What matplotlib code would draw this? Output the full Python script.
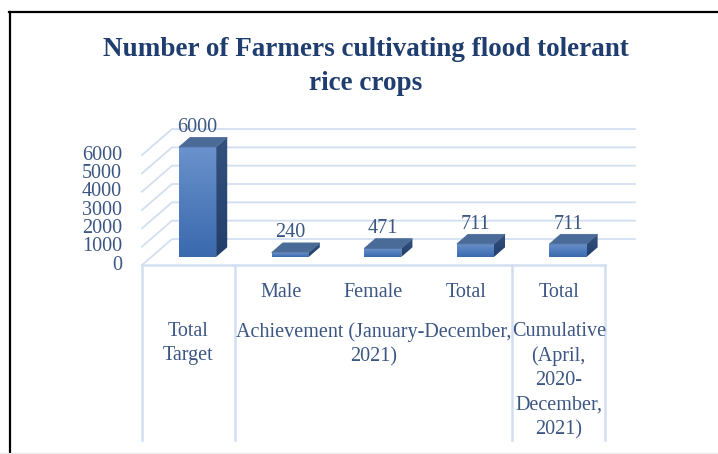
import numpy as np
import matplotlib
matplotlib.use("Agg")
import matplotlib.pyplot as plt
from matplotlib.patches import Polygon
from matplotlib.lines import Line2D

# data
categories = ["Total Target", "Male", "Female", "Total", "Total"]
values = [6000, 240, 471, 711, 711]
inner_labels = ["", "Male", "Female", "Total", "Total"]
group_labels = ["Total\nTarget", "Achievement (January-December,\n2021)",
                "Cumulative\n(April,\n2020-\nDecember,\n2021)"]
group_spans = [(0, 0), (1, 3), (4, 4)]
yticks = [0, 1000, 2000, 3000, 4000, 5000, 6000]
title = "Number of Farmers cultivating flood tolerant\nrice crops"

W, H = 718, 454
FONT = "Liberation Serif"
TXT = "#3b5683"
GRID = "#d3dff1"
FS = 14.5

# pixel layout of the 3d box
PX_CAT = 92.6     # px per category
X0PX = 142        # front-left edge of floor
PX_VAL = 0.01833  # px per unit value
Y0PX = 265        # front floor line (from top)
DX = 30 / PX_CAT  # depth offset in data units
DY = 26 / PX_VAL
F0, F1 = 0.31, 0.68   # bar depth range
BAR_W = 0.40


def proj(x, v, f):
    return (x + f * DX, v + f * DY)


def ypx(py):
    return (Y0PX - py) / PX_VAL


fig = plt.figure(figsize=(W / 100, H / 100), dpi=100)
ax = fig.add_axes([0, 0, 1, 1])
ax.axis("off")

# walls / grid
for v in yticks:
    pts = [proj(-0.5, v, 0), proj(-0.5, v, 1), proj(len(values) - 0.5, v, 1)]
    ax.plot([p[0] for p in pts], [p[1] for p in pts], color=GRID, lw=1.3, zorder=1)
    ax.text(-0.5 - 20 / PX_CAT, v, f"{v}", ha="right", va="center",
            fontsize=FS, family=FONT, color=TXT)

# floor front edge and category table lines
ax.plot([-0.5, len(values) - 0.5], [0, 0], color=GRID, lw=1.8, zorder=1)
for b in [-0.5, 0.5, 3.5, 4.5]:
    ax.plot([b, b], [0, ypx(440)], color=GRID, lw=1.8, zorder=1)

# bars
grad = np.linspace(0, 1, 64).reshape(-1, 1)
cm_front = matplotlib.colors.LinearSegmentedColormap.from_list("f", ["#3a69ae", "#6a92cc"])
cm_side = matplotlib.colors.LinearSegmentedColormap.from_list("s", ["#223f6c", "#34517f"])
for i, v in enumerate(values):
    xl, xr = i - BAR_W / 2, i + BAR_W / 2
    front = [proj(xl, 0, F0), proj(xr, 0, F0), proj(xr, v, F0), proj(xl, v, F0)]
    side = [proj(xr, 0, F0), proj(xr, 0, F1), proj(xr, v, F1), proj(xr, v, F0)]
    top = [proj(xl, v, F0), proj(xr, v, F0), proj(xr, v, F1), proj(xl, v, F1)]
    for poly, cmap in [(front, cm_front), (side, cm_side)]:
        pp = Polygon(poly, closed=True, facecolor="none", edgecolor="none")
        ax.add_patch(pp)
        xs = [p[0] for p in poly]
        ys = [p[1] for p in poly]
        im = ax.imshow(grad, extent=[min(xs), max(xs), min(ys), max(ys)],
                       origin="lower", cmap=cmap, aspect="auto", zorder=3)
        im.set_clip_path(pp)
    ax.add_patch(Polygon(top, closed=True, facecolor="#4a6a98", edgecolor="#4a6a98",
                         lw=0.5, zorder=4))
    lx = proj(i, v, F0)[0]
    ly = v + F1 * DY + 10 / PX_VAL
    ax.text(lx, ly, f"{v}", ha="center", va="center", fontsize=FS,
            family=FONT, color=TXT, zorder=5)

# category labels
for i, lab in enumerate(inner_labels):
    if lab:
        ax.text(i, ypx(292), lab, ha="center", va="center", fontsize=FS,
                family=FONT, color=TXT)
for lab, (a, b) in zip(group_labels, group_spans):
    ax.text((a + b) / 2, ypx(322), lab, ha="center", va="top", fontsize=FS,
            family=FONT, color=TXT, multialignment="center", linespacing=1.37)

ax.set_xlim(-0.5 - X0PX / PX_CAT, -0.5 + (W - X0PX) / PX_CAT)
ax.set_ylim(-(H - Y0PX) / PX_VAL, Y0PX / PX_VAL)

# title
fig.text(366 / W, 1 - 37 / H, title, ha="center", va="top", fontsize=19.5,
         family=FONT, weight="bold", color="#1f3d6e", linespacing=1.5)

# outer border
fig.add_artist(Line2D([9.5 / W, 9.5 / W], [0, 1 - 12 / H], color="black", lw=1.6,
                      transform=fig.transFigure))
fig.add_artist(Line2D([9 / W, 1], [1 - 12 / H, 1 - 12 / H], color="black", lw=1.6,
                      transform=fig.transFigure))
fig.add_artist(Line2D([0, 1], [1 / H, 1 / H], color="#e8e8e8", lw=0.8,
                      transform=fig.transFigure))

fig.savefig("out.png", dpi=100)
